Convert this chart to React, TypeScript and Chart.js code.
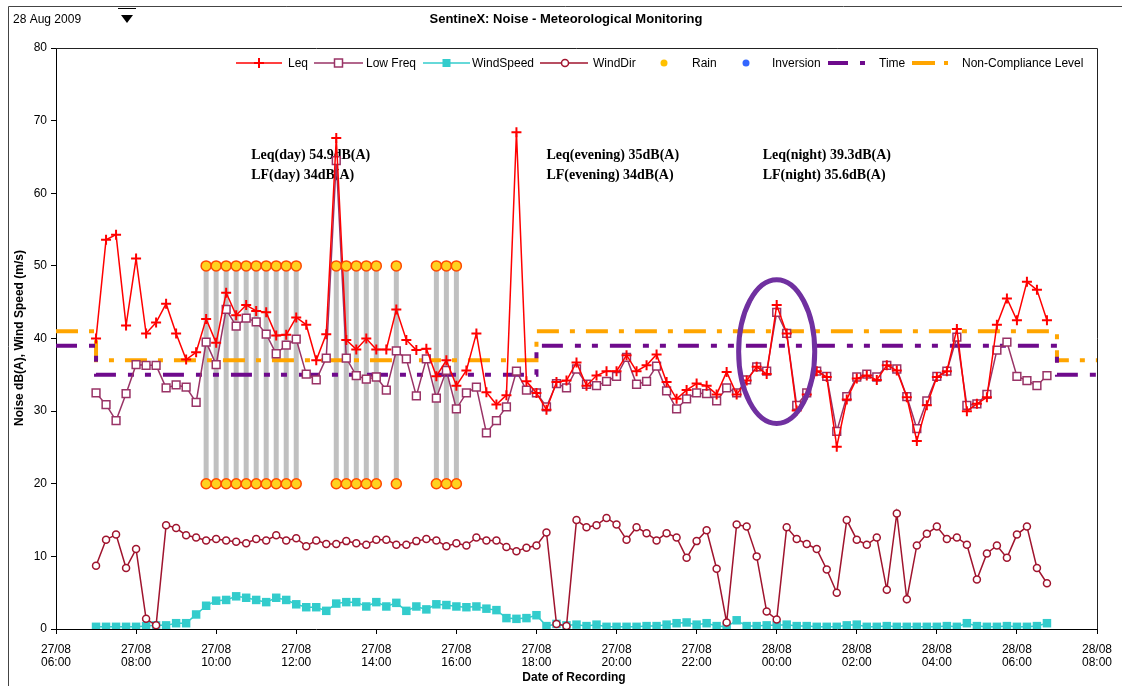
import React, { useEffect, useRef } from "react";
import { Chart, registerables } from "chart.js";

Chart.register(...registerables);

// ---------------- data ----------------
const START_HOUR = 7; // first sample: 27/08 07:00 (hours since 27/08 00:00)
const STEP_HOURS = 0.25; // 15-minute samples

const leq = [
  40.0, 53.6, 54.3, 41.8, 51.0, 40.7, 42.2, 44.8, 40.7, 37.1,
  38.1, 42.7, 39.4, 46.3, 43.2, 44.6, 43.8, 43.6, 40.4, 40.5,
  42.9, 41.9, 37.0, 40.6, 67.6, 39.8, 38.5, 40.0, 38.5, 38.5,
  44.0, 39.8, 38.4, 38.6, 34.8, 37.0, 33.5, 35.6, 40.7, 32.6,
  30.9, 32.2, 68.4, 34.1, 32.5, 30.2, 34.0, 34.2, 36.7, 33.5,
  34.9, 35.5, 35.5, 37.7, 35.5, 36.3, 37.8, 34.0, 31.7, 32.9,
  33.8, 33.5, 32.3, 35.4, 32.3, 34.2, 36.1, 35.1, 44.6, 40.7,
  30.1, 32.3, 35.5, 34.7, 25.1, 31.6, 34.5, 34.9, 34.3, 36.3,
  35.6, 31.9, 25.9, 30.8, 34.7, 35.5, 41.3, 30.0, 31.0, 31.9,
  41.9, 45.5, 42.5, 47.8, 46.7, 42.5,
];

const lowFreq = [
  32.5, 30.9, 28.7, 32.4, 36.4, 36.3, 36.3, 33.2, 33.6, 33.3,
  31.2, 39.5, 36.4, 44.0, 41.7, 42.8, 42.3, 40.6, 37.9, 39.1,
  39.9, 35.1, 34.3, 37.3, 64.5, 37.3, 34.9, 34.4, 34.7, 32.9,
  38.3, 37.2, 32.1, 37.2, 31.8, 35.6, 30.3, 32.5, 33.3, 27.0,
  28.7, 30.6, 35.5, 32.9, 32.5, 30.6, 33.8, 33.2, 35.8, 33.7,
  33.5, 34.1, 34.8, 37.4, 33.7, 34.1, 36.2, 32.8, 30.3, 31.7,
  32.5, 32.4, 31.4, 33.2, 32.5, 34.3, 36.1, 35.5, 43.6, 40.7,
  30.8, 32.5, 35.5, 34.8, 27.2, 32.0, 34.7, 35.1, 34.7, 36.3,
  35.8, 32.0, 27.6, 31.4, 34.8, 35.5, 40.2, 30.8, 31.0, 32.3,
  38.4, 39.5, 34.8, 34.2, 33.5, 34.9,
];

const windSpeed = [
  0.3, 0.3, 0.3, 0.3, 0.3, 0.4, 0.5, 0.5, 0.8, 0.8,
  2.0, 3.2, 3.9, 4.0, 4.5, 4.3, 4.0, 3.7, 4.3, 4.0,
  3.4, 3.0, 3.0, 2.5, 3.5, 3.7, 3.7, 3.1, 3.7, 3.1,
  3.6, 2.5, 3.1, 2.7, 3.4, 3.3, 3.1, 3.0, 3.1, 2.8,
  2.6, 1.5, 1.4, 1.5, 1.9, 0.4, 0.7, 0.5, 0.6, 0.4,
  0.6, 0.3, 0.3, 0.3, 0.3, 0.4, 0.4, 0.6, 0.8, 0.9,
  0.6, 0.8, 0.4, 0.3, 1.2, 0.4, 0.4, 0.5, 0.5, 0.6,
  0.4, 0.4, 0.3, 0.3, 0.3, 0.5, 0.6, 0.3, 0.3, 0.4,
  0.3, 0.3, 0.3, 0.3, 0.3, 0.4, 0.3, 0.8, 0.4, 0.3,
  0.3, 0.4, 0.3, 0.3, 0.4, 0.8,
];

const windDir = [
  8.7, 12.3, 13.0, 8.4, 11.0, 1.4, 0.5, 14.3, 13.9, 12.9,
  12.6, 12.2, 12.4, 12.2, 12.0, 11.8, 12.4, 12.2, 12.9, 12.2,
  12.5, 11.4, 12.2, 11.7, 11.7, 12.1, 11.8, 11.6, 12.3, 12.3,
  11.6, 11.6, 12.1, 12.4, 12.2, 11.4, 11.8, 11.5, 12.6, 12.2,
  12.2, 11.3, 10.7, 11.2, 11.5, 13.3, 0.7, 0.4, 15.0, 14.0,
  14.3, 15.3, 14.4, 12.3, 14.0, 13.2, 12.2, 13.2, 12.6, 9.8,
  12.1, 13.6, 8.3, 0.9, 14.4, 14.1, 10.0, 2.4, 1.3, 14.0,
  12.4, 11.7, 11.0, 8.2, 5.0, 15.0, 12.3, 11.6, 12.6, 5.4,
  15.9, 4.1, 11.5, 13.1, 14.1, 12.4, 12.6, 11.6, 6.8, 10.4,
  11.5, 9.8, 13.0, 14.1, 8.4, 6.3,
];

// rain events (hours since 27/08 00:00), each drawn as a bar from RAIN_LOW to RAIN_HIGH
const rainTimes = [9.75, 10, 10.25, 10.5, 10.75, 11, 11.25, 11.5, 11.75, 12, 13, 13.25, 13.5, 13.75, 14, 14.5, 15.5, 15.75, 16];
const RAIN_LOW = 20;
const RAIN_HIGH = 50;

// step levels: change-over hours and level values
const timeLevelX = [6, 7, 7, 18, 18, 31, 31, 32];
const timeLevelY = [39, 39, 35, 35, 39, 39, 35, 35];
const nonCompX = [6, 7, 7, 18, 18, 31, 31, 32];
const nonCompY = [41, 41, 37, 37, 41, 41, 37, 37];

const xTickDays = ["27/08", "27/08", "27/08", "27/08", "27/08", "27/08", "27/08", "27/08", "27/08", "28/08", "28/08", "28/08", "28/08", "28/08"];
const xTickTimes = ["06:00", "08:00", "10:00", "12:00", "14:00", "16:00", "18:00", "20:00", "22:00", "00:00", "02:00", "04:00", "06:00", "08:00"];

const legendLabels = ["Leq", "Low Freq", "WindSpeed", "WindDir", "Rain", "Inversion", "Time", "Non-Compliance Level"];
const annotationTexts = [
  ["Leq(day) 54.9dB(A)", "LF(day) 34dB(A)"],
  ["Leq(evening) 35dB(A)", "LF(evening) 34dB(A)"],
  ["Leq(night) 39.3dB(A)", "LF(night) 35.6dB(A)"],
];

const TITLE = "SentineX: Noise - Meteorological Monitoring";
const DATE_LABEL = "28 Aug 2009";
const Y_TITLE = "Noise dB(A), Wind Speed (m/s)";
const X_TITLE = "Date of Recording";

// ---------------- styles ----------------
const SANS = '"Liberation Sans", Arial, sans-serif';
const SERIF = '"Liberation Serif", "Times New Roman", serif';
const C_LEQ = "#FF0000";
const C_LF = "#993366";
const C_WS = "#33CCCC";
const C_WD = "#A0142E";
const C_TIME = "#6E0A8C";
const C_NC = "#FFA500";
const C_RAIN_FILL = "#FFD21F";
const C_RAIN_EDGE = "#FF4A00";
const C_GRAY = "#C0C0C0";

const series = (vals: number[]) => vals.map((v, i) => ({ x: START_HOUR + i * STEP_HOURS, y: v }));
const zipXY = (xs: number[], ys: number[]) => xs.map((x, i) => ({ x, y: ys[i] }));

const decorPlugin = {
  id: "decor",
  beforeDatasetsDraw(chart: any) {
    const { ctx, scales } = chart;
    const xs = scales.x, ys = scales.y;
    const anchors = [10.875, 18.25, 23.65];
    ctx.save();
    ctx.fillStyle = "#000";
    ctx.font = `bold 14px ${SERIF}`;
    ctx.textBaseline = "middle";
    ctx.textAlign = "left";
    annotationTexts.forEach((pair, i) => {
      const px = xs.getPixelForValue(anchors[i]);
      ctx.fillText(pair[0], px, ys.getPixelForValue(65.2));
      ctx.fillText(pair[1], px, ys.getPixelForValue(62.4));
    });
    ctx.restore();
  },
  afterDatasetsDraw(chart: any) {
    const { ctx, scales, chartArea } = chart;
    const xs = scales.x, ys = scales.y;
    ctx.save();
    // highlight ellipse around midnight
    const cx = xs.getPixelForValue(24.0);
    const cy = ys.getPixelForValue(38.2);
    const rx = xs.getPixelForValue(24.95) - cx;
    const ry = cy - ys.getPixelForValue(38.2 + 9.9);
    ctx.beginPath();
    ctx.ellipse(cx, cy, rx, ry, 0, 0, Math.PI * 2);
    ctx.strokeStyle = "#7030A0";
    ctx.lineWidth = 5;
    ctx.stroke();

    // plot frame top & right
    ctx.strokeStyle = "#222";
    ctx.lineWidth = 1;
    ctx.beginPath();
    ctx.moveTo(chartArea.left, chartArea.top + 0.5);
    ctx.lineTo(chartArea.right + 0.5, chartArea.top + 0.5);
    ctx.lineTo(chartArea.right + 0.5, chartArea.bottom);
    ctx.stroke();
    ctx.restore();
  },
  afterDraw(chart: any) {
    const { ctx } = chart;
    ctx.save();
    // page frame
    ctx.strokeStyle = "#444";
    ctx.lineWidth = 1;
    ctx.beginPath();
    ctx.moveTo(8.5, 686);
    ctx.lineTo(8.5, 6.5);
    ctx.lineTo(1122, 6.5);
    ctx.stroke();

    ctx.fillStyle = "#000";
    ctx.textBaseline = "middle";
    // date + dropdown
    ctx.font = `12px ${SANS}`;
    ctx.textAlign = "left";
    ctx.fillText(DATE_LABEL, 13, 20);
    ctx.beginPath();
    ctx.moveTo(118, 8.5);
    ctx.lineTo(136, 8.5);
    ctx.strokeStyle = "#000";
    ctx.stroke();
    ctx.beginPath();
    ctx.moveTo(121, 15);
    ctx.lineTo(133, 15);
    ctx.lineTo(127, 23);
    ctx.closePath();
    ctx.fill();

    // title
    ctx.font = `bold 13px ${SANS}`;
    ctx.textAlign = "center";
    ctx.fillText(TITLE, 566, 19);

    // axis titles
    ctx.font = `bold 12px ${SANS}`;
    ctx.fillText(X_TITLE, 574, 678);
    ctx.save();
    ctx.translate(20, 338);
    ctx.rotate(-Math.PI / 2);
    ctx.fillText(Y_TITLE, 0, 0);
    ctx.restore();

    // legend
    const ly = 63;
    ctx.font = `12px ${SANS}`;
    ctx.textAlign = "left";
    const seg = (x1: number, x2: number, color: string, w: number) => {
      ctx.beginPath();
      ctx.moveTo(x1, ly);
      ctx.lineTo(x2, ly);
      ctx.strokeStyle = color;
      ctx.lineWidth = w;
      ctx.stroke();
    };
    const text = (s: string, x: number) => {
      ctx.fillStyle = "#000";
      ctx.fillText(s, x, ly + 0.5);
    };
    // Leq
    seg(236, 282, C_LEQ, 1.5);
    ctx.beginPath();
    ctx.moveTo(254, ly); ctx.lineTo(264, ly); ctx.moveTo(259, ly - 5); ctx.lineTo(259, ly + 5);
    ctx.strokeStyle = C_LEQ; ctx.lineWidth = 2; ctx.stroke();
    text(legendLabels[0], 288);
    // Low Freq
    seg(314, 363, C_LF, 1.5);
    ctx.fillStyle = "#fff"; ctx.fillRect(334.5, ly - 4, 8, 8);
    ctx.strokeStyle = C_LF; ctx.lineWidth = 1.5; ctx.strokeRect(334.5, ly - 4, 8, 8);
    text(legendLabels[1], 366);
    // WindSpeed
    seg(423, 470, C_WS, 1.5);
    ctx.fillStyle = C_WS; ctx.fillRect(442.5, ly - 4, 8, 8);
    text(legendLabels[2], 472);
    // WindDir
    seg(540, 588, C_WD, 1.5);
    ctx.beginPath(); ctx.arc(565, ly, 3.5, 0, Math.PI * 2);
    ctx.fillStyle = "#fff"; ctx.fill(); ctx.strokeStyle = C_WD; ctx.lineWidth = 1.5; ctx.stroke();
    text(legendLabels[3], 593);
    // Rain
    ctx.beginPath(); ctx.arc(664, ly, 3.5, 0, Math.PI * 2);
    ctx.fillStyle = "#FFC000"; ctx.fill();
    text(legendLabels[4], 692);
    // Inversion
    ctx.beginPath(); ctx.arc(746, ly, 3.5, 0, Math.PI * 2);
    ctx.fillStyle = "#3366FF"; ctx.fill();
    text(legendLabels[5], 772);
    // Time
    seg(828, 848, C_TIME, 4);
    ctx.fillStyle = C_TIME; ctx.fillRect(860, ly - 2, 5, 4);
    text(legendLabels[6], 879);
    // Non-compliance
    seg(912, 935, C_NC, 4);
    ctx.fillStyle = C_NC; ctx.fillRect(944, ly - 2, 4, 4);
    text(legendLabels[7], 962);
    ctx.restore();
  },
};

export default function App() {
  const ref = useRef<HTMLCanvasElement | null>(null);
  useEffect(() => {
    if (!ref.current) return;
    const rainBars: any[] = [];
    rainTimes.forEach((t) => {
      rainBars.push({ x: t, y: RAIN_LOW }, { x: t, y: RAIN_HIGH }, { x: t, y: null });
    });
    const rainDots: any[] = [];
    rainTimes.forEach((t) => {
      rainDots.push({ x: t, y: RAIN_LOW }, { x: t, y: RAIN_HIGH });
    });
    const chart = new Chart(ref.current, {
      type: "line",
      data: {
        datasets: [
          {
            label: "Rain",
            data: rainDots,
            showLine: false,
            pointStyle: "circle",
            pointRadius: 5,
            pointBorderWidth: 1.5,
            pointBackgroundColor: C_RAIN_FILL,
            pointBorderColor: C_RAIN_EDGE,
            order: -1,
          },
          {
            label: "Leq",
            data: series(leq),
            borderColor: C_LEQ,
            borderWidth: 1.5,
            pointStyle: "cross",
            pointRadius: 5,
            pointBorderWidth: 2,
            pointBorderColor: C_LEQ,
            order: 0,
          },
          {
            label: "Low Freq",
            data: series(lowFreq),
            borderColor: C_LF,
            borderWidth: 1.5,
            pointStyle: "rect",
            pointRadius: 5.5,
            pointBorderWidth: 1.5,
            pointBorderColor: C_LF,
            pointBackgroundColor: "#fff",
            order: 1,
          },
          {
            label: "WindDir",
            data: series(windDir),
            borderColor: C_WD,
            borderWidth: 1.5,
            pointStyle: "circle",
            pointRadius: 3.5,
            pointBorderWidth: 1.5,
            pointBorderColor: C_WD,
            pointBackgroundColor: "#fff",
            order: 2,
          },
          {
            label: "WindSpeed",
            data: series(windSpeed),
            borderColor: C_WS,
            borderWidth: 1.5,
            pointStyle: "rect",
            pointRadius: 6,
            pointBorderWidth: 0,
            pointBackgroundColor: C_WS,
            order: 3,
          },
          {
            label: "Inversion",
            data: [],
            order: 4,
          },
          {
            label: "Time",
            data: zipXY(timeLevelX, timeLevelY),
            borderColor: C_TIME,
            borderWidth: 4,
            borderDash: [21, 12, 6, 11, 6, 12],
            borderCapStyle: "butt",
            pointRadius: 0,
            order: 5,
          },
          {
            label: "Non-Compliance Level",
            data: zipXY(nonCompX, nonCompY),
            borderColor: C_NC,
            borderWidth: 4,
            borderDash: [22, 11, 5, 11],
            borderCapStyle: "butt",
            pointRadius: 0,
            order: 6,
          },
          {
            label: "rain-bars",
            data: rainBars,
            borderColor: C_GRAY,
            borderWidth: 5,
            borderCapStyle: "butt",
            pointRadius: 0,
            spanGaps: false,
            order: 7,
          },
        ] as any,
      },
      options: {
        animation: false,
        responsive: false,
        maintainAspectRatio: false,
        layout: { padding: { left: 0, top: 48, right: 25, bottom: 0 } },
        plugins: {
          legend: { display: false },
          tooltip: { enabled: false },
          title: { display: false },
        },
        scales: {
          x: {
            type: "linear",
            min: 6,
            max: 32,
            afterFit: (s: any) => {
              s.height = 57;
            },
            ticks: {
              stepSize: 2,
              autoSkip: false,
              maxRotation: 0,
              minRotation: 0,
              padding: 9,
              color: "#000",
              font: { size: 12, family: SANS, lineHeight: 1.1 },
              callback: (v: any) => {
                const i = Math.round((Number(v) - 6) / 2);
                return [xTickDays[i], xTickTimes[i]];
              },
            },
            grid: { drawOnChartArea: false, drawTicks: true, tickLength: 5, color: "#000" },
            border: { display: true, color: "#000", width: 1 },
          },
          y: {
            min: 0,
            max: 80,
            afterFit: (s: any) => {
              s.width = 56;
            },
            ticks: {
              stepSize: 10,
              padding: 4,
              color: "#000",
              font: { size: 12, family: SANS },
            },
            grid: { drawOnChartArea: false, drawTicks: true, tickLength: 5, color: "#000" },
            border: { display: true, color: "#000", width: 1 },
          },
        },
      },
      plugins: [decorPlugin],
    } as any);
    return () => chart.destroy();
  }, []);
  return (
    <div style={{ position: "absolute", left: 0, top: 0, width: 1122, height: 686, background: "#fff" }}>
      <canvas ref={ref} width={1122} height={686} style={{ display: "block", width: 1122, height: 686 }} />
    </div>
  );
}
